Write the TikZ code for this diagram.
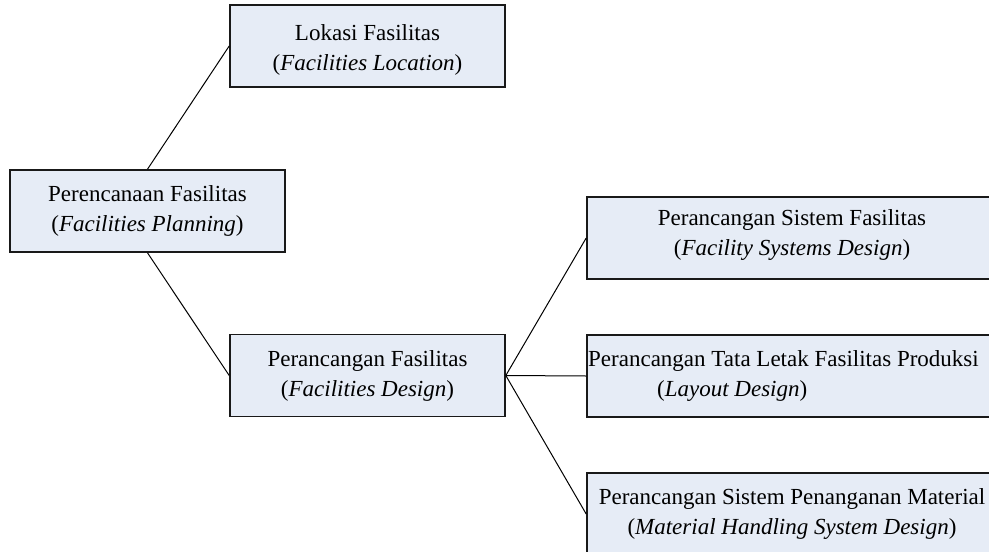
\documentclass[tikz,border=0pt]{standalone}
\usepackage{fontspec}
\setmainfont{Liberation Serif}
\definecolor{boxfill}{RGB}{230,236,246}
\definecolor{boxline}{RGB}{25,25,25}
\begin{document}
\begin{tikzpicture}[x=1pt,y=-1pt,
  box/.style={draw=boxline, line width=1.6pt, fill=boxfill, rectangle,
    minimum height=82pt, inner sep=0pt, align=center,
    font=\fontsize{23}{30}\selectfont},
  smallbox/.style={box, minimum width=275pt},
  bigbox/.style={box, minimum width=410pt},
  txt/.style={inner sep=0pt, align=left, font=\fontsize{23}{30}\selectfont},
  conn/.style={draw=black, line width=1pt}]
\clip (0,0) rectangle (989,552);
\fill[white] (0,0) rectangle (989,552);
\node[smallbox] (root) at (147.5,211) {Perencanaan Fasilitas\\(\textit{Facilities Planning})};
\node[smallbox] (lok) at (367.5,46) {};
\node[txt, align=center] (lokt) at (367.5,50) {Lokasi Fasilitas\\(\textit{Facilities Location})};
\node[smallbox] (des) at (367.5,375.5) {Perancangan Fasilitas\\(\textit{Facilities Design})};
\node[bigbox] (s1) at (792,238) {};
\node[txt, align=center] (s1t) at (792,235) {Perancangan Sistem Fasilitas\\(\textit{Facility Systems Design})};
\node[bigbox] (s2) at (792,376) {};
\node[txt, anchor=west] (s2t) at (588,376) {Perancangan Tata Letak Fasilitas Produksi\\\hspace*{69pt}(\textit{Layout Design})};
\node[bigbox] (s3) at (792,514) {Perancangan Sistem Penanganan Material\\(\textit{Material Handling System Design})};
\draw[conn] (root.north) -- (lok.west);
\draw[conn] (root.south) -- (des.west);
\draw[conn] (des.east) -- (s1.west);
\draw[conn] (des.east) -- (s2.west);
\draw[conn] (des.east) -- (s3.west);
\end{tikzpicture}
\end{document}
